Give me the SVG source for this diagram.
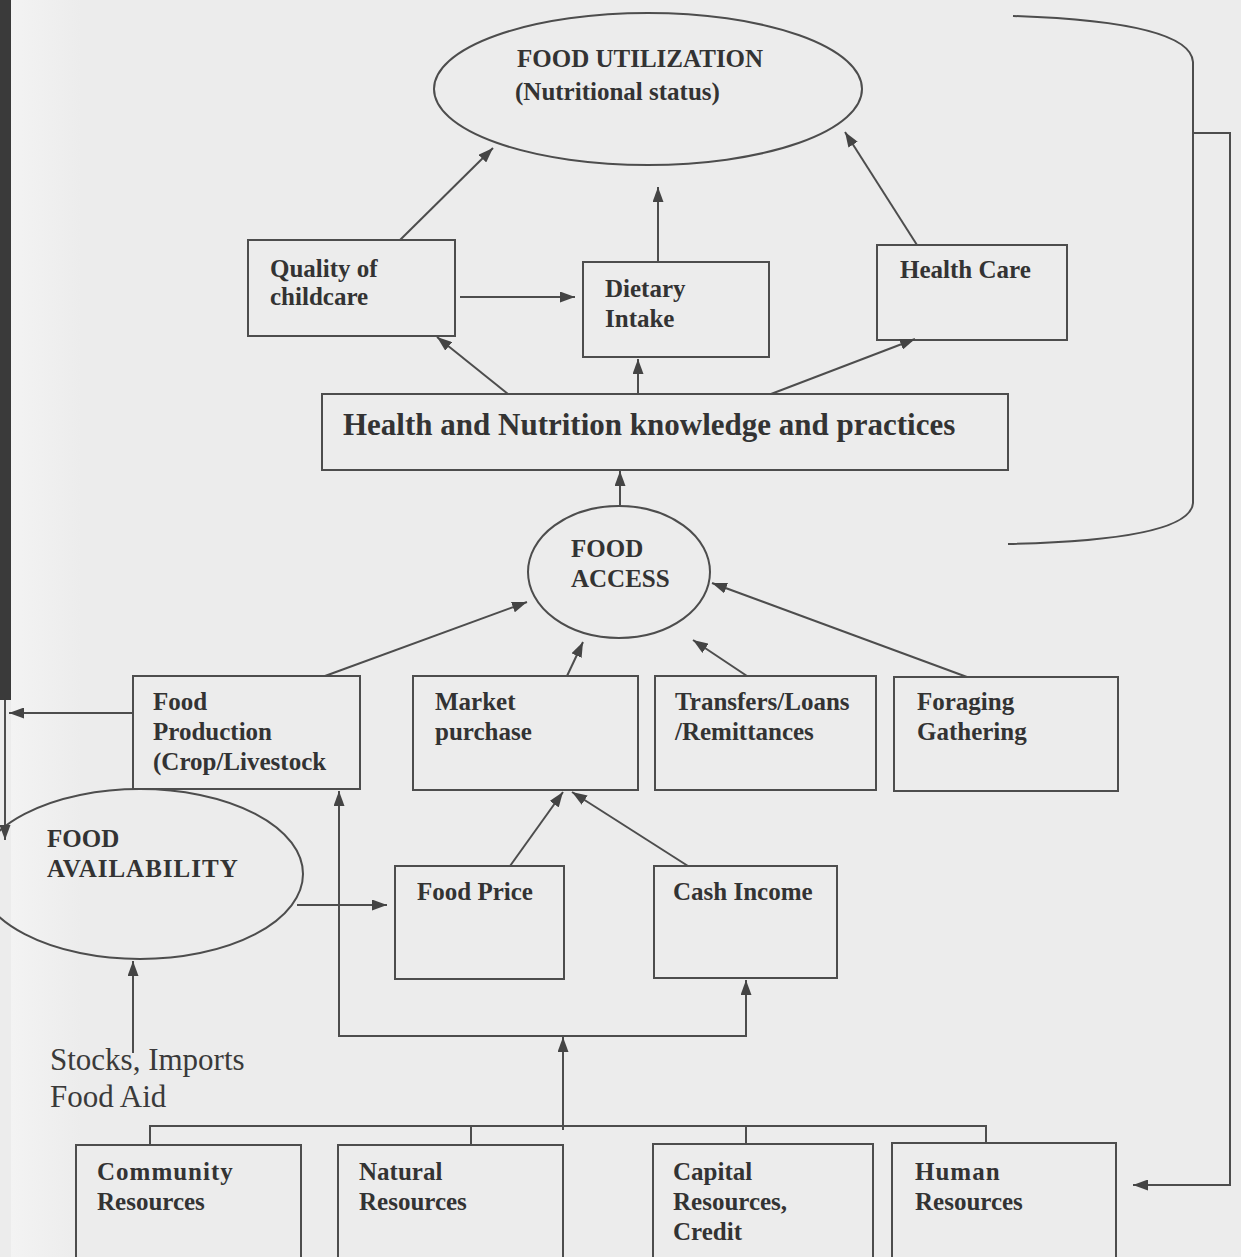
<svg xmlns="http://www.w3.org/2000/svg" width="1241" height="1257" viewBox="0 0 1241 1257">
<style>
.t{font-family:"Liberation Serif","Times New Roman",serif;font-weight:bold;font-size:25px;fill:#333}
.r{font-family:"Liberation Serif","Times New Roman",serif;font-size:31px;fill:#3a3a3a}
.box{fill:none;stroke:#4d4d4d;stroke-width:2}
.ln{fill:none;stroke:#4d4d4d;stroke-width:2}
.ar{fill:none;stroke:#4d4d4d;stroke-width:2;marker-end:url(#ah)}
</style>
<defs>
<marker id="ah" viewBox="0 0 15 11" refX="15" refY="5.5" markerWidth="15" markerHeight="11" orient="auto" markerUnits="userSpaceOnUse">
<path d="M0,0 L15,5.5 L0,11 z" fill="#444"/>
</marker>
<linearGradient id="edge" x1="0" y1="0" x2="1" y2="0">
<stop offset="0" stop-color="#f3f3f3"/>
<stop offset="1" stop-color="#ececec"/>
</linearGradient>
</defs>
<rect x="0" y="0" width="1241" height="1257" fill="#ececec"/>
<rect x="11" y="0" width="70" height="1257" fill="url(#edge)"/>
<rect x="0" y="0" width="11" height="700" fill="#3a3a3a"/>

<g id="food-utilization">
<ellipse cx="648" cy="89" rx="214" ry="76" class="box"/>
<text class="t" x="517" y="67">FOOD UTILIZATION</text>
<text class="t" x="515" y="100">(Nutritional status)</text>
</g>
<g id="quality-childcare">
<rect x="248" y="240" width="207" height="96" class="box"/>
<text class="t" x="270" y="277">Quality of</text>
<text class="t" x="270" y="305">childcare</text>
</g>
<g id="dietary-intake">
<rect x="583" y="262" width="186" height="95" class="box"/>
<text class="t" x="605" y="297">Dietary</text>
<text class="t" x="605" y="327">Intake</text>
</g>
<g id="health-care">
<rect x="877" y="245" width="190" height="95" class="box"/>
<text class="t" x="900" y="278">Health Care</text>
</g>
<g id="health-nutrition">
<rect x="322" y="394" width="686" height="76" class="box"/>
<text class="t" x="343" y="435" style="font-size:31px">Health and Nutrition knowledge and practices</text>
</g>
<g id="food-access">
<ellipse cx="619" cy="572" rx="91" ry="66" class="box"/>
<text class="t" x="571" y="557">FOOD</text>
<text class="t" x="571" y="587">ACCESS</text>
</g>
<g id="food-production">
<rect x="133" y="676" width="227" height="113" class="box"/>
<text class="t" x="153" y="710">Food</text>
<text class="t" x="153" y="740">Production</text>
<text class="t" x="153" y="770">(Crop/Livestock</text>
</g>
<g id="market-purchase">
<rect x="413" y="676" width="225" height="114" class="box"/>
<text class="t" x="435" y="710">Market</text>
<text class="t" x="435" y="740">purchase</text>
</g>
<g id="transfers">
<rect x="655" y="676" width="221" height="114" class="box"/>
<text class="t" x="675" y="710">Transfers/Loans</text>
<text class="t" x="675" y="740">/Remittances</text>
</g>
<g id="foraging">
<rect x="894" y="677" width="224" height="114" class="box"/>
<text class="t" x="917" y="710">Foraging</text>
<text class="t" x="917" y="740">Gathering</text>
</g>
<g id="food-availability">
<ellipse cx="140" cy="874" rx="163" ry="85" class="box"/>
<text class="t" x="47" y="847">FOOD</text>
<text class="t" x="47" y="877" style="letter-spacing:1px">AVAILABILITY</text>
</g>
<g id="food-price">
<rect x="395" y="866" width="169" height="113" class="box"/>
<text class="t" x="417" y="900">Food Price</text>
</g>
<g id="cash-income">
<rect x="654" y="866" width="183" height="112" class="box"/>
<text class="t" x="673" y="900">Cash Income</text>
</g>
<g id="stocks">
<text class="r" x="50" y="1070">Stocks, Imports</text>
<text class="r" x="50" y="1107">Food Aid</text>
</g>
<g id="community-resources">
<rect x="76" y="1145" width="225" height="120" class="box"/>
<text class="t" x="97" y="1180" style="letter-spacing:1px">Community</text>
<text class="t" x="97" y="1210">Resources</text>
</g>
<g id="natural-resources">
<rect x="338" y="1145" width="225" height="120" class="box"/>
<text class="t" x="359" y="1180">Natural</text>
<text class="t" x="359" y="1210">Resources</text>
</g>
<g id="capital-resources">
<rect x="653" y="1144" width="220" height="120" class="box"/>
<text class="t" x="673" y="1180">Capital</text>
<text class="t" x="673" y="1210">Resources,</text>
<text class="t" x="673" y="1240">Credit</text>
</g>
<g id="human-resources">
<rect x="892" y="1143" width="224" height="120" class="box"/>
<text class="t" x="915" y="1180" style="letter-spacing:1px">Human</text>
<text class="t" x="915" y="1210">Resources</text>
</g>

<g id="connectors">
<line x1="400" y1="240" x2="493" y2="148" class="ar"/>
<line x1="658" y1="262" x2="658" y2="187" class="ar"/>
<line x1="917" y1="245" x2="845" y2="132" class="ar"/>
<line x1="460" y1="297" x2="575" y2="297" class="ar"/>
<line x1="508" y1="394" x2="437" y2="337" class="ar"/>
<line x1="638" y1="394" x2="638" y2="359" class="ar"/>
<line x1="771" y1="394" x2="915" y2="339" class="ar"/>
<line x1="620" y1="506" x2="620" y2="471" class="ar"/>
<line x1="325" y1="676" x2="527" y2="602" class="ar"/>
<line x1="567" y1="676" x2="583" y2="642" class="ar"/>
<line x1="747" y1="676" x2="693" y2="640" class="ar"/>
<line x1="967" y1="677" x2="712" y2="583" class="ar"/>
<line x1="510" y1="866" x2="563" y2="792" class="ar"/>
<line x1="688" y1="866" x2="572" y2="792" class="ar"/>
<line x1="133" y1="713" x2="9" y2="713" class="ar"/>
<polyline points="5,700 5,713 5,840" class="ar"/>
<line x1="297" y1="905" x2="387" y2="905" class="ar"/>
<line x1="133" y1="1053" x2="133" y2="961" class="ar"/>
<polyline points="563,1036 339,1036 339,791" class="ar"/>
<polyline points="563,1036 746,1036 746,980" class="ar"/>
<line x1="563" y1="1130" x2="563" y2="1037" class="ar"/>
<polyline points="150,1145 150,1126 986,1126 986,1143" class="ln"/>
<line x1="471" y1="1126" x2="471" y2="1145" class="ln"/>
<line x1="746" y1="1126" x2="746" y2="1144" class="ln"/>
<path d="M1013,16 Q1190,22 1193,62 V503 Q1190,540 1008,544" class="ln"/>
<polyline points="1194,133 1230,133 1230,1185 1133,1185" class="ar"/>
</g>
</svg>
